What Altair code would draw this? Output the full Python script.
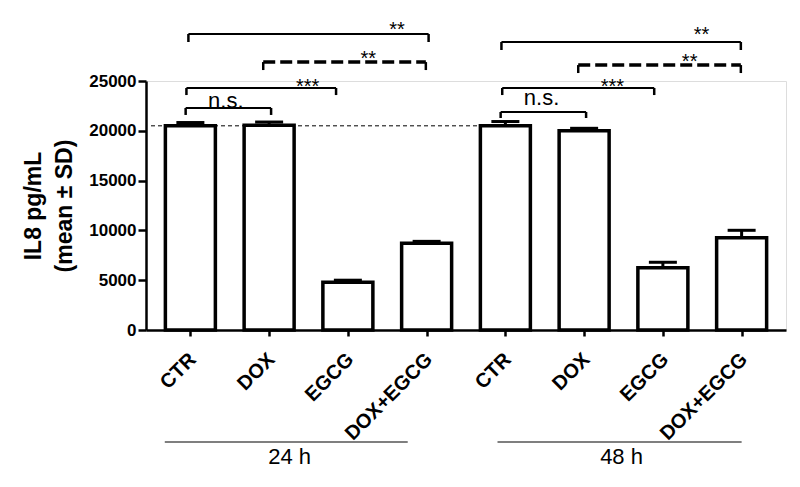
import altair as alt
import pandas as pd

# ---- data ----
treatments = ["CTR", "DOX", "EGCG", "DOX+EGCG"]
groups = ["24 h", "48 h"]
mean_24h = [20500, 20550, 4800, 8700]
sd_24h = [330, 330, 200, 200]
mean_48h = [20500, 20000, 6250, 9270]
sd_48h = [430, 250, 550, 740]
reference_level = 20500

# significance brackets (positions in category units, levels in pg/mL)
br_label = ["n.s.", "***", "**", "**", "n.s.", "***", "**", "**"]
br_from = [-0.06, -0.05, 0.925, -0.025, 3.94, 3.96, 4.925, 3.95]
br_to = [1.025, 1.85, 2.99, 3.025, 5.025, 5.89, 6.99, 6.99]
br_level = [22290, 24300, 26900, 29720, 21890, 24300, 26600, 28915]
br_end = [21590, 23590, 26100, 28915, 21285, 23590, 25800, 28110]
br_dashed = [False, False, True, False, False, False, True, False]
br_text_x = [0.45, 1.49, 2.26, 2.625, 4.46, 5.36, 6.34, 6.49]
br_text_y = [22290, 23845, 26610, 29470, 22590, 23845, 26355, 29015]

# group underline / labels below the axis
grp_from = [-0.325, 3.9]
grp_to = [2.76, 7.0]
grp_center = [1.26, 5.475]
grp_line_level = -11245
grp_text_level = -13454

FONT = "Liberation Sans"

# ---- tables ----
all_labels = treatments + treatments
bars = pd.DataFrame({
    "idx": list(range(8)),
    "label": all_labels,
    "mean": mean_24h + mean_48h,
    "sd": sd_24h + sd_48h,
})
bars["top"] = bars["mean"] + bars["sd"]

ref = pd.DataFrame({"x1": [-0.5], "x2": [4.0], "y": [reference_level]})

br = pd.DataFrame({
    "label": br_label, "x1": br_from, "x2": br_to,
    "level": br_level, "end": br_end, "dashed": br_dashed,
    "tx": br_text_x, "ty": br_text_y,
})
br["fs"] = [22 if l == "n.s." else 20 for l in br_label]
ends = pd.concat([
    br[["x1", "level", "end"]].rename(columns={"x1": "x"}),
    br[["x2", "level", "end"]].rename(columns={"x2": "x"}),
])

grp = pd.DataFrame({"name": groups, "x1": grp_from, "x2": grp_to, "xc": grp_center,
                    "yl": [grp_line_level] * 2, "yt": [grp_text_level] * 2})

# ---- scales / axes ----
xscale = alt.Scale(domain=[-0.5, 7.5], nice=False, zero=False)
yscale = alt.Scale(domain=[0, 25000], nice=False)
label_js = "[" + ",".join("'" + t + "'" for t in all_labels) + "]"

xaxis = alt.Axis(
    values=list(range(8)), labelExpr=label_js + "[datum.value]",
    labelAngle=-45, labelFont=FONT, labelFontSize=20, labelFontWeight="bold",
    labelColor="black", labelPadding=13, labelOffset=-5, labelOverlap=False, labelFlush=False,
    tickSize=6, tickWidth=2.5, tickColor="black",
    domainWidth=2.5, domainColor="black", grid=False, title=None,
)
yaxis = alt.Axis(
    values=[0, 5000, 10000, 15000, 20000, 25000], format="d",
    labelFont=FONT, labelFontSize=17, labelFontWeight="bold", labelColor="black",
    labelPadding=2, labelOverlap=False, tickSize=8, tickWidth=2.5, tickColor="black",
    domainWidth=2.5, domainColor="black", grid=False,
    title=["IL8 pg/mL", "(mean \u00b1 SD)"], titleFont=FONT, titleFontSize=23,
    titleFontWeight="bold", titleColor="black", titleLineHeight=31, titlePadding=12,
)

def X(f):
    return alt.X(f, scale=xscale, axis=xaxis)

def Y(f):
    return alt.Y(f, scale=yscale, axis=yaxis)

ref_layer = alt.Chart(ref).mark_rule(strokeDash=[4, 3], strokeWidth=1, color="black").encode(
    x=X("x1:Q"), x2="x2:Q", y=Y("y:Q"))

bar_layer = alt.Chart(bars).mark_bar(fill="white", stroke="black", strokeWidth=3.5, size=50).encode(
    x=X("idx:Q"), y=Y("mean:Q"))
err_layer = alt.Chart(bars).mark_rule(strokeWidth=3, color="black").encode(
    x=X("idx:Q"), y=Y("mean:Q"), y2="top:Q")
cap_layer = alt.Chart(bars).mark_tick(orient="horizontal", size=28, thickness=3, color="black", opacity=1).encode(
    x=X("idx:Q"), y=Y("top:Q"))

solid_h = alt.Chart(br[~br["dashed"]]).mark_rule(strokeWidth=2, color="black").encode(
    x=X("x1:Q"), x2="x2:Q", y=Y("level:Q"))
dashed_h = alt.Chart(br[br["dashed"]]).mark_rule(strokeWidth=3.5, color="black", strokeDash=[12, 5]).encode(
    x=X("x1:Q"), x2="x2:Q", y=Y("level:Q"))
end_layer = alt.Chart(ends).mark_rule(strokeWidth=2.5, color="black").encode(
    x=X("x:Q"), y=Y("level:Q"), y2="end:Q")
br_text = alt.Chart(br).mark_text(font=FONT, align="center", baseline="alphabetic", color="black").encode(
    x=X("tx:Q"), y=Y("ty:Q"), text="label:N", size=alt.Size("fs:Q", scale=None, legend=None))

grp_line = alt.Chart(grp).mark_rule(strokeWidth=1.2, color="black").encode(
    x=X("x1:Q"), x2="x2:Q", y=Y("yl:Q"))
grp_text = alt.Chart(grp).mark_text(font=FONT, fontSize=22, align="center", baseline="alphabetic", color="black").encode(
    x=X("xc:Q"), y=Y("yt:Q"), text="name:N")

chart = alt.layer(
    ref_layer, bar_layer, err_layer, cap_layer, solid_h, dashed_h, end_layer, br_text, grp_line, grp_text
).properties(
    width=640, height=249,
    autosize=alt.AutoSizeParams(type="none"),
    padding={"left": 138, "top": 73, "right": 6, "bottom": 140},
).configure_view(strokeWidth=0).configure(font=FONT, background="white")

chart.save("out.html", embed_options={"renderer": "svg", "actions": False})
